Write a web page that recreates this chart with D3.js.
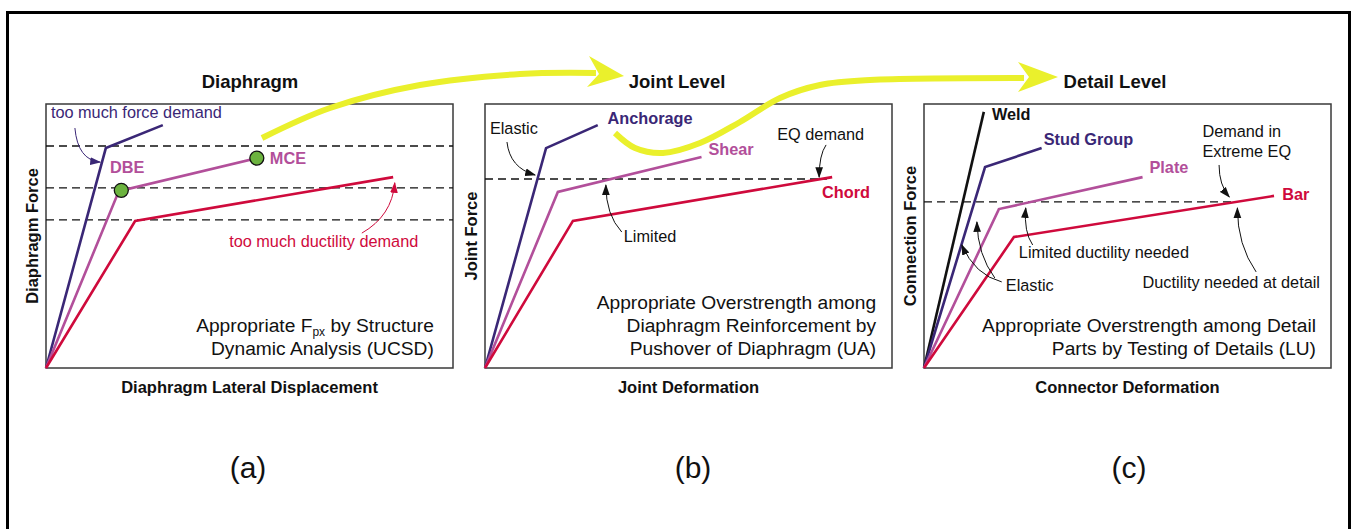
<!DOCTYPE html>
<html>
<head>
<meta charset="utf-8">
<script src="https://cdn.jsdelivr.net/npm/d3@7"></script>
<style>
  body { margin: 0; background: #fff; }
  text { font-family: "Liberation Sans", Arial, Helvetica, sans-serif; }
</style>
</head>
<body>
<svg id="chart"></svg>
<script>
// three-level overstrength schematic (diaphragm -> joint -> detail)

// ---- data (deformation 0-100, force 0-100) ----
var panelTitles = ["Diaphragm", "Joint Level", "Detail Level"];
var xLabels = ["Diaphragm Lateral Displacement", "Joint Deformation", "Connector Deformation"];
var yLabels = ["Diaphragm Force", "Joint Force", "Connection Force"];
var panelTags = ["(a)", "(b)", "(c)"];

// (a) diaphragm response
var aHighForce = [[0, 0], [14.7, 83.3], [28.7, 92.0]];
var aDesign = [[0, 0], [17.9, 67.0], [51.8, 79.5]];
var aHighDuct = [[0, 0], [21.9, 55.7], [85.3, 72.3]];
var aLevels = [84.1, 68.2, 56.1];
var aPoints = [[18.5, 67.3], [51.8, 79.5]];   // DBE, MCE

// (b) joint components
var bAnchorage = [[0, 0], [15.0, 83.3], [27.7, 92.0]];
var bShear = [[0, 0], [17.9, 66.7], [53.2, 79.9]];
var bChord = [[0, 0], [21.6, 55.7], [85.3, 72.3]];
var bDemand = 71.6;

// (c) detail parts
var cWeld = [[0, 0], [14.7, 97.0]];
var cStud = [[0, 0], [15.0, 76.1], [28.9, 83.3]];
var cPlate = [[0, 0], [18.4, 60.2], [53.7, 72.3]];
var cBar = [[0, 0], [22.1, 49.6], [86.0, 65.2]];
var cDemand = 62.9;

// ---- layout ----
var W = 1354, H = 529;
var purple = "#3a2776", pink = "#b24f9a", red = "#cf0a3c", yellow = "#eaf02c", green = "#6cb33f";
var panelLeft = [46, 485, 924], boxTop = 104, boxW = 407, boxH = 264;
var titleX = [250, 677, 1115], tagX = [248, 693, 1129];

var panelCurves = [[aHighForce, aDesign, aHighDuct], [bAnchorage, bShear, bChord], [cWeld, cStud, cPlate, cBar]];
var curveColors = [[purple, pink, red], [purple, pink, red], ["#111", purple, pink, red]];
var dashLines = [
    aLevels.map(function (v) { return {y: v, x1: 100}; }),
    [{y: bDemand, x1: 84}],
    [{y: cDemand, x1: 76}]
];

// labels: text, x, y, colour, bold
var labels = [
    [["too much force demand", 1.2, 94.7, purple, false], ["DBE", 15.7, 73.9, pink, true],
     ["MCE", 55.0, 77.3, pink, true], ["too much ductility demand", 45.0, 45.8, red, false]],
    [["Elastic", 1.2, 88.6, "#111", false], ["Anchorage", 30.1, 92.4, purple, true],
     ["Shear", 54.9, 80.7, pink, true], ["EQ demand", 71.8, 86.4, "#111", false],
     ["Chord", 82.8, 64.4, red, true], ["Limited", 34.1, 47.7, "#111", false]],
    [["Weld", 16.7, 93.9, "#111", true], ["Stud Group", 29.4, 84.5, purple, true],
     ["Plate", 55.4, 73.9, pink, true], ["Bar", 88.0, 63.6, red, true],
     ["Demand in", 68.4, 87.5, "#111", false], ["Extreme EQ", 68.4, 79.9, "#111", false],
     ["Limited ductility needed", 23.3, 41.7, "#111", false], ["Elastic", 20.1, 29.2, "#111", false],
     ["Ductility needed at detail", 53.7, 30.3, "#111", false]]
];

// pointer arrows: start, control, end, colour
var pointers = [
    [[7.1, 90.9, 7.8, 78.8, 13.3, 78.0, purple], [77.6, 51.1, 85.0, 57.6, 85.7, 70.1, red]],
    [[5.4, 85.6, 6.1, 75.8, 12.3, 73.1, "#111"], [33.6, 51.5, 29.7, 58.0, 29.7, 69.3, "#111"],
     [83.8, 84.5, 82.1, 80.7, 82.1, 72.3, "#111"]],
    [[72.5, 76.9, 72.5, 69.3, 75.0, 64.8, "#111"], [26.7, 46.6, 24.5, 51.5, 25.0, 60.6, "#111"],
     [19.1, 32.6, 12.5, 35.2, 9.3, 46.6, "#111"], [17.4, 34.1, 13.2, 42.8, 13.0, 55.3, "#111"],
     [81.6, 36.4, 77.0, 46.6, 77.0, 60.6, "#111"]]
];

var notes = [
    ["Appropriate F|px| by Structure", "Dynamic Analysis (UCSD)"],
    ["Appropriate Overstrength among", "Diaphragm Reinforcement by", "Pushover of Diaphragm (UA)"],
    ["Appropriate Overstrength among Detail", "Parts by Testing of Details (LU)"]
];
var noteRight = [95.3, 96.1, 96.3];

var svg = d3.select('#chart').attr('width', W).attr('height', H);

// outer frame (bottom edge sits outside the window)
svg.append('rect').attr('x', 7.5).attr('y', 12.5).attr('width', 1342).attr('height', 600)
    .attr('fill', 'none').attr('stroke', '#000').attr('stroke-width', 3);

var defs = svg.append('defs');
[purple, red, "#111"].forEach(function (c, i) {
    defs.append('marker').attr('id', 'head' + i).attr('viewBox', '0 -4 10 8')
        .attr('refX', 9).attr('refY', 0).attr('markerWidth', 11).attr('markerHeight', 9)
        .attr('markerUnits', 'userSpaceOnUse').attr('orient', 'auto')
        .append('path').attr('d', 'M0,-3.5L10,0L0,3.5Z').attr('fill', c);
});
function headId(c) { return c === purple ? 'head0' : (c === red ? 'head1' : 'head2'); }

panelTitles.forEach(function (title, i) {
    var x = d3.scaleLinear().domain([0, 100]).range([panelLeft[i], panelLeft[i] + boxW]);
    var y = d3.scaleLinear().domain([0, 100]).range([boxTop + boxH, boxTop]);
    var g = svg.append('g');

    g.append('rect').attr('x', x(0)).attr('y', y(100)).attr('width', boxW).attr('height', boxH)
        .attr('fill', 'none').attr('stroke', '#3a3a3a').attr('stroke-width', 1.5);

    g.append('text').text(title).attr('x', titleX[i]).attr('y', 88)
        .attr('text-anchor', 'middle').attr('font-size', 18.5).attr('font-weight', 'bold').attr('fill', '#111');
    g.append('text').text(xLabels[i]).attr('x', x(50)).attr('y', 393)
        .attr('text-anchor', 'middle').attr('font-size', 16.5).attr('font-weight', 'bold').attr('fill', '#111');
    g.append('text').text(yLabels[i])
        .attr('transform', 'translate(' + (x(0) - 8) + ',' + y(50) + ') rotate(-90)')
        .attr('text-anchor', 'middle').attr('font-size', 16.5).attr('font-weight', 'bold').attr('fill', '#111');
    g.append('text').text(panelTags[i]).attr('x', tagX[i]).attr('y', 478)
        .attr('text-anchor', 'middle').attr('font-size', 30).attr('fill', '#111');

    g.selectAll('line.dash').data(dashLines[i]).enter().append('line')
        .attr('x1', x(0)).attr('x2', function (d) { return x(d.x1); })
        .attr('y1', function (d) { return y(d.y); }).attr('y2', function (d) { return y(d.y); })
        .attr('stroke', '#111').attr('stroke-width', 1.3).attr('stroke-dasharray', '8,5');

    var line = d3.line().x(function (d) { return x(d[0]); }).y(function (d) { return y(d[1]); });
    g.selectAll('path.curve').data(panelCurves[i]).enter().append('path')
        .attr('d', line).attr('fill', 'none')
        .attr('stroke', function (d, k) { return curveColors[i][k]; })
        .attr('stroke-width', 2.6).attr('stroke-linejoin', 'miter');

    if (i === 0) {
        g.selectAll('circle').data(aPoints).enter().append('circle')
            .attr('cx', function (d) { return x(d[0]); }).attr('cy', function (d) { return y(d[1]); })
            .attr('r', 7).attr('fill', green).attr('stroke', '#111').attr('stroke-width', 1.3);
    }

    g.selectAll('path.ptr').data(pointers[i]).enter().append('path')
        .attr('d', function (d) {
            var p = d3.path();
            p.moveTo(x(d[0]), y(d[1]));
            p.quadraticCurveTo(x(d[2]), y(d[3]), x(d[4]), y(d[5]));
            return p.toString();
        })
        .attr('fill', 'none').attr('stroke', function (d) { return d[6]; }).attr('stroke-width', 1)
        .attr('marker-end', function (d) { return 'url(#' + headId(d[6]) + ')'; });

    g.selectAll('text.lab').data(labels[i]).enter().append('text')
        .text(function (d) { return d[0]; })
        .attr('x', function (d) { return x(d[1]); }).attr('y', function (d) { return y(d[2]); })
        .attr('fill', function (d) { return d[3]; })
        .attr('font-size', 16.3)
        .attr('font-weight', function (d) { return d[4] ? 'bold' : 'normal'; });

    var n = notes[i].length;
    notes[i].forEach(function (str, k) {
        var t = g.append('text').attr('x', x(noteRight[i])).attr('y', y(4.9 + (n - 1 - k) * 8.7))
            .attr('text-anchor', 'end').attr('font-size', 19.2).attr('fill', '#111');
        var parts = str.split('|');
        t.append('tspan').text(parts[0]);
        if (parts.length > 1) {
            t.append('tspan').text(parts[1]).attr('font-size', 12).attr('dy', 4);
            t.append('tspan').text(parts[2]).attr('dy', -4);
        }
    });
});

// yellow flow arrows between levels (page coordinates)
var flow1 = [[262, 138], [330, 108], [420, 85], [520, 74], [596, 73]];
var flow2 = [[615, 133], [635, 148], [663, 153], [700, 143], [740, 122], [780, 98], [820, 85], [870, 80], [1024, 78]];
var flowHeads = [
    [[624, 76], [589, 56], [599, 74], [587, 87]],
    [[1058, 77], [1018, 62], [1029, 77], [1018, 92]]
];
var flowLine = d3.line().curve(d3.curveCatmullRom.alpha(0.5));
svg.selectAll('path.flow').data([flow1, flow2]).enter().append('path')
    .attr('d', flowLine).attr('fill', 'none').attr('stroke', yellow)
    .attr('stroke-width', 6);
svg.selectAll('path.fhead').data(flowHeads).enter().append('path')
    .attr('d', function (d) { return 'M' + d.join('L') + 'Z'; }).attr('fill', yellow);
</script>
</body>
</html>
